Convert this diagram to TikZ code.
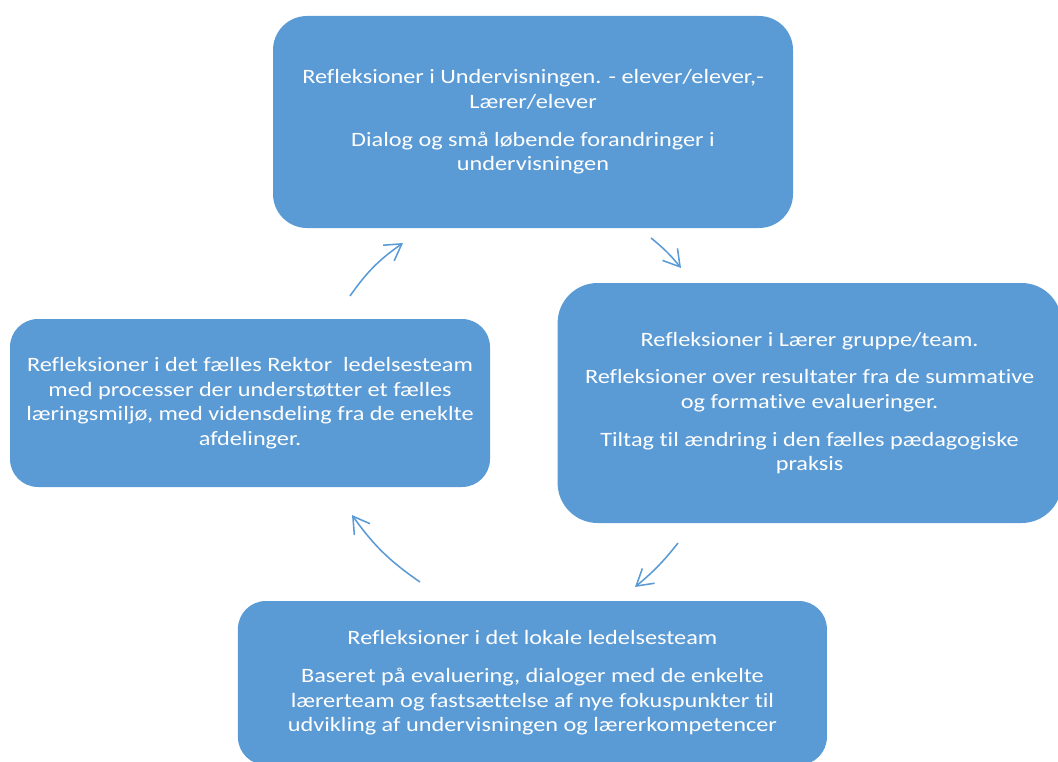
\documentclass[tikz,border=0pt]{standalone}
\usepackage{fontspec}
\setmainfont{Carlito}[Ligatures=NoCommon, FakeStretch=1.19]
\usetikzlibrary{arrows.meta}
\definecolor{officeblue}{HTML}{5B9BD5}

\begin{document}
\begin{tikzpicture}[
  refbox/.style={fill=officeblue, text=white, align=center, inner sep=0pt,
    font=\fontsize{14.5}{17.4}\selectfont},
  cyclearrow/.style={draw=officeblue, line width=1.1pt,
    -{Straight Barb[length=4mm,width=4.8mm]}}
]
  % Frame of the picture
  \useasboundingbox (0,0) rectangle (26.45,-19.025);
  \clip (0,0) rectangle (26.45,-19.025);

  % The four boxes of the cycle
  \node (undervisning) at (13.325,-3.05) [refbox, minimum width=13cm, minimum height=5.3cm, rounded corners=0.85cm]
    {Refleksioner i Undervisningen. - elever/elever,-\\ Lærer/elever\\[9.6pt]
     Dialog og små løbende forandringer i\\ undervisningen};
  \node (laererteam) at (20.24,-10.075) [refbox, minimum width=12.6cm, minimum height=6cm, rounded corners=1cm]
    {Refleksioner i Lærer gruppe/team.\\[9.6pt]
     Refleksioner over resultater fra de summative\\ og formative evalueringer.\\[9.6pt]
     Tiltag til ændring i den fælles pædagogiske\\ praksis};
  \node (lokal) at (13.31,-17.075) [refbox, minimum width=14.725cm, minimum height=4.1cm, rounded corners=0.7cm]
    {Refleksioner i det lokale ledelsesteam\\[9.6pt]
     Baseret på evaluering, dialoger med de enkelte\\ lærerteam og fastsættelse af nye fokuspunkter til\\
     udvikling af undervisningen og lærerkompetencer};
  \node (rektor) at (6.25,-10.075) [refbox, minimum width=12cm, minimum height=4.2cm, rounded corners=0.7cm]
    {Refleksioner i det fælles Rektor\ \ ledelsesteam\\ med processer der understøtter et fælles\\
     læringsmiljø, med vidensdeling fra de eneklte\\ afdelinger.};

  % Ends of the arrows between the boxes
  \coordinate (a1s) at (8.75,-7.4);
  \coordinate (a1e) at (10.075,-6.075);
  \coordinate (a2s) at (16.275,-5.95);
  \coordinate (a2e) at (17.025,-6.7);
  \coordinate (a3s) at (16.95,-13.575);
  \coordinate (a3e) at (15.875,-14.675);
  \coordinate (a4s) at (10.5,-14.55);
  \coordinate (a4e) at (8.8,-12.875);

  \draw[cyclearrow] (a1s) to[bend left=10] (a1e);
  \draw[cyclearrow] (a2s) to[bend left=6] (a2e);
  \draw[cyclearrow] (a3s) to[bend left=6] (a3e);
  \draw[cyclearrow] (a4s) to[bend left=10] (a4e);
\end{tikzpicture}
\end{document}
